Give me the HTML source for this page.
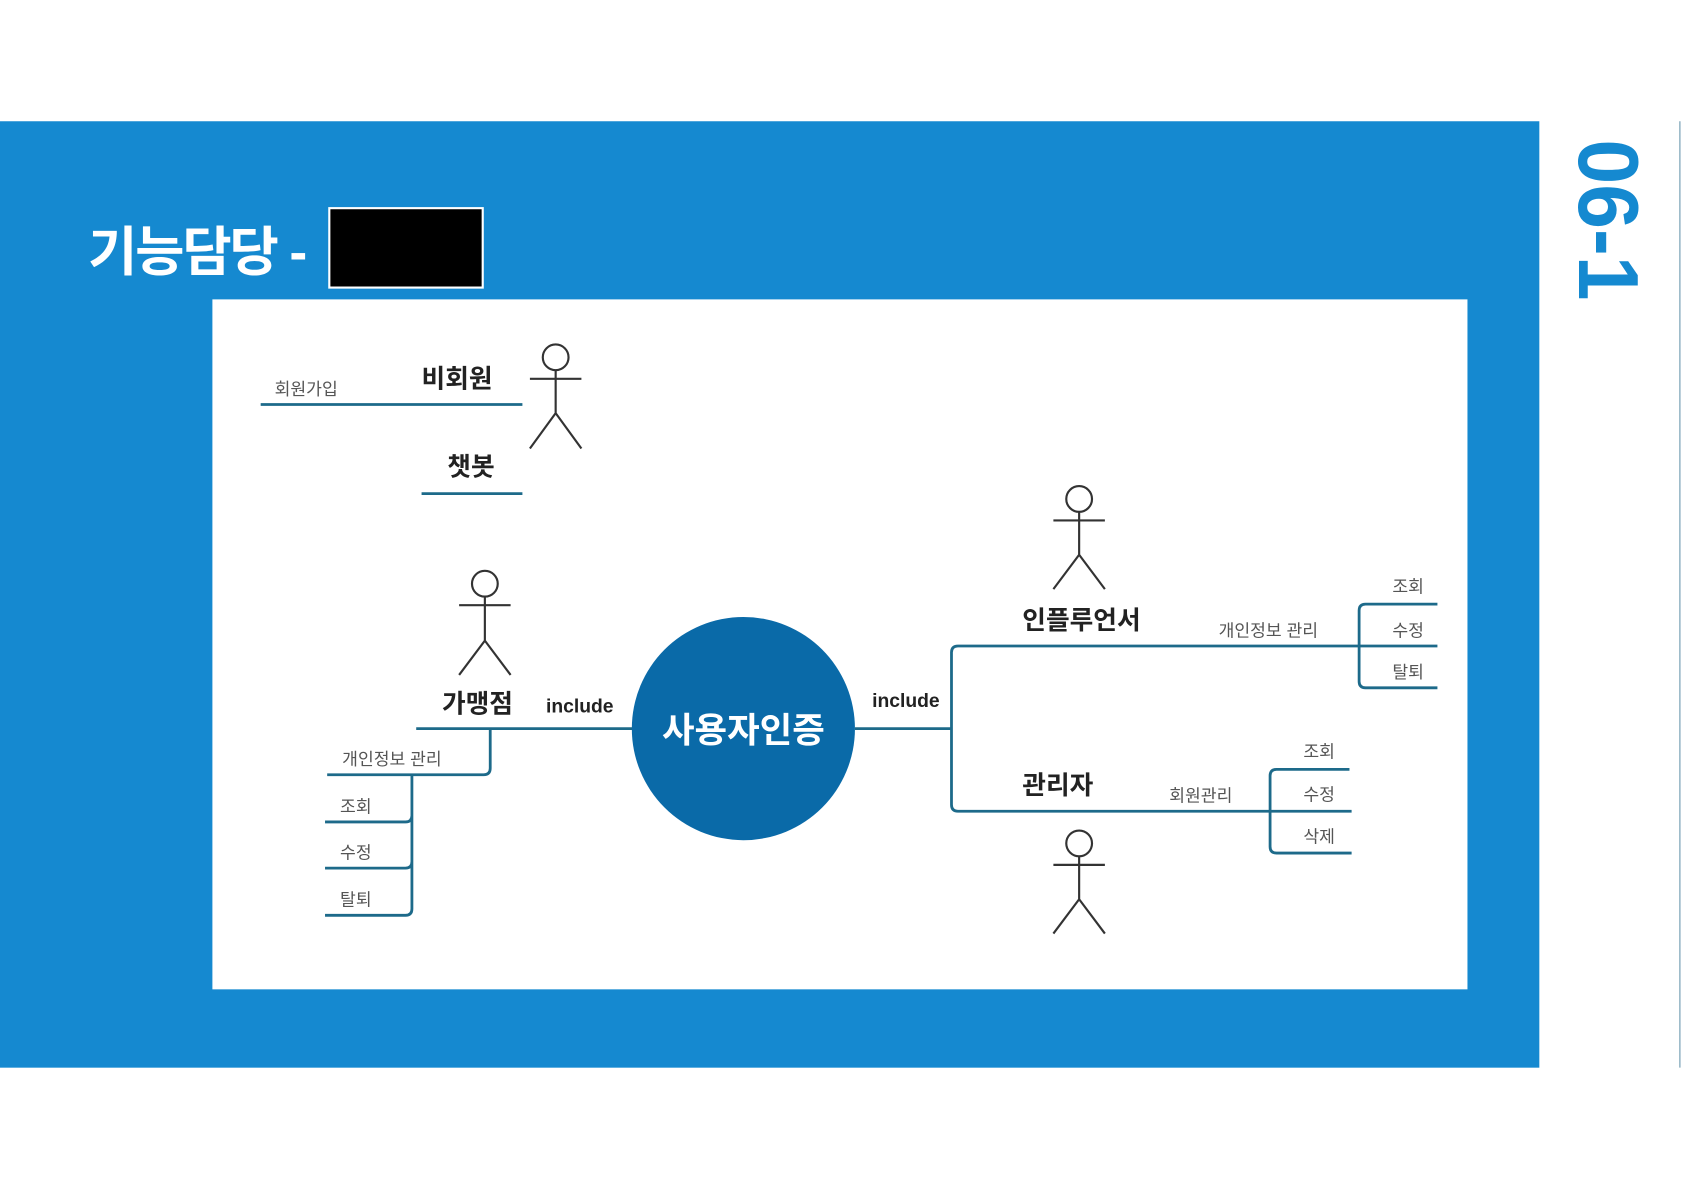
<!DOCTYPE html>
<html><head><meta charset="utf-8"><style>
html,body{margin:0;padding:0;background:#fff;width:1682px;height:1190px;overflow:hidden}
svg{display:block}
text{font-family:"Liberation Sans","Noto Sans CJK KR",sans-serif}
</style></head><body>
<svg width="1682" height="1190" viewBox="0 0 1568 1109" preserveAspectRatio="none" xmlns="http://www.w3.org/2000/svg">
<rect x="0" y="0" width="1568" height="1109" fill="#fff"/>
<rect x="0" y="113" width="1435" height="882" fill="#1589d0"/>
<line x1="1566" y1="113" x2="1566" y2="995" stroke="#9ab8c8" stroke-width="1.5"/>
<text transform="translate(1472,130) rotate(90)" font-size="80" font-weight="bold" fill="#1589d0" textLength="150" lengthAdjust="spacingAndGlyphs" font-family="Liberation Sans, sans-serif">06-1</text>
<text x="82" y="252" font-size="50" font-weight="bold" fill="#fff" letter-spacing="-2">기능담당 -</text>
<rect x="307" y="194" width="143" height="74" fill="#000" stroke="#fff" stroke-width="2"/>
<rect x="198" y="279" width="1170" height="643" fill="#fff"/>
<g stroke="#333" stroke-width="2" fill="none">
<circle cx="518" cy="333" r="12"/><path d="M518 345V385M494 353H542M518 385L494 418M518 385L542 418"/>
<circle cx="452" cy="544" r="12"/><path d="M452 556V597M428 564H476M452 597L428 629M452 597L476 629"/>
<circle cx="1006" cy="465" r="12"/><path d="M1006 477V517M982 485H1030M1006 517L982 549M1006 517L1030 549"/>
<circle cx="1006" cy="786" r="12"/><path d="M1006 798V838M982 806H1030M1006 838L982 870M1006 838L1030 870"/>
</g>
<g stroke="#1d6a8a" stroke-width="2.6" fill="none">
<path d="M243 377H487M393 460H487"/>
<path d="M388 679H590M457 679V716Q457 722 451 722H305"/>
<path d="M384 722V847Q384 853 378 853H303M384 760Q384 766 378 766H303M384 803Q384 809 378 809H303"/>
<path d="M797 679H887M887 679V608Q887 602 893 602H1340M887 679V750Q887 756 893 756H1260"/>
<path d="M1273 563Q1267 563 1267 569V635Q1267 641 1273 641H1340M1273 563H1340"/>
<path d="M1190 717Q1184 717 1184 723V789Q1184 795 1190 795H1260M1190 717H1258"/>
</g>
<circle cx="693" cy="679" r="104" fill="#0a6aa8"/>
<text x="693" y="692" font-size="33" font-weight="bold" fill="#fff" text-anchor="middle">사용자인증</text>
<g fill="#222" font-weight="bold">
<text x="393" y="361" font-size="24">비회원</text>
<text x="417" y="443" font-size="24">챗봇</text>
<text x="412" y="664" font-size="24">가맹점</text>
<text x="953" y="586" font-size="24">인플루언서</text>
<text x="953" y="740" font-size="24">관리자</text>
<text x="509" y="664" font-size="18">include</text>
<text x="813" y="659" font-size="18">include</text>
</g>
<g fill="#555" font-size="16">
<text x="256" y="368">회원가입</text>
<text x="319" y="713">개인정보 관리</text>
<text x="317" y="757">조회</text>
<text x="317" y="800">수정</text>
<text x="317" y="844">탈퇴</text>
<text x="1136" y="593">개인정보 관리</text>
<text x="1298" y="552">조회</text>
<text x="1298" y="593">수정</text>
<text x="1298" y="632">탈퇴</text>
<text x="1090" y="747">회원관리</text>
<text x="1215" y="706">조회</text>
<text x="1215" y="746">수정</text>
<text x="1215" y="785">삭제</text>
</g>
</svg>
</body></html>
